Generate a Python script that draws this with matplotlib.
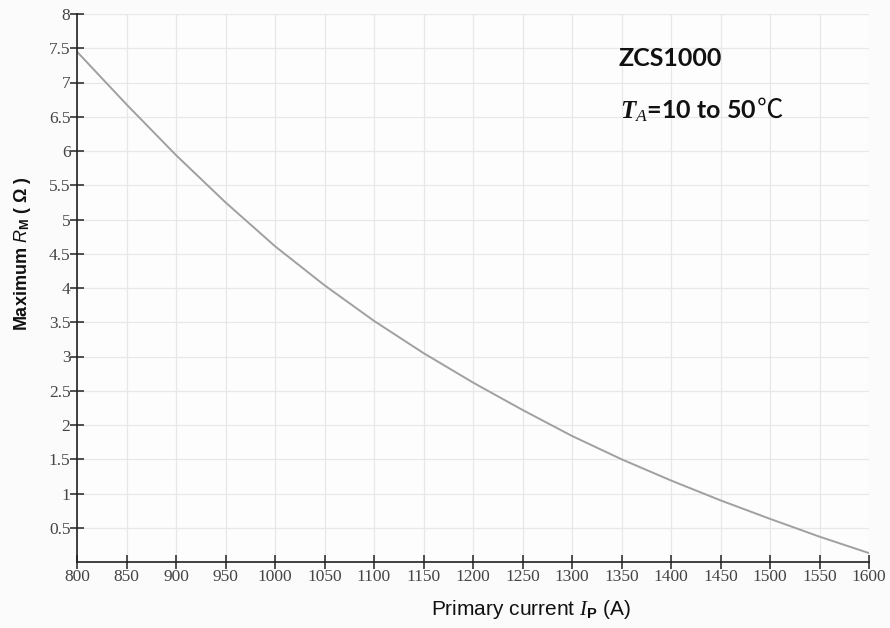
import matplotlib
matplotlib.use("Agg")
import matplotlib.pyplot as plt

# data
current = [800, 850, 900, 950, 1000, 1050, 1100, 1150, 1200,
           1250, 1300, 1350, 1400, 1450, 1500, 1550, 1600]
max_rm = [7.45, 6.68, 5.94, 5.25, 4.61, 4.04, 3.52, 3.05, 2.62,
          2.22, 1.84, 1.50, 1.19, 0.90, 0.63, 0.37, 0.13]

x_ticks = list(range(800, 1601, 50))
y_ticks = [0.5, 1, 1.5, 2, 2.5, 3, 3.5, 4, 4.5, 5, 5.5, 6, 6.5, 7, 7.5, 8]
y_tick_labels = ["0.5", "1", "1.5", "2", "2.5", "3", "3.5", "4", "4.5",
                 "5", "5.5", "6", "6.5", "7", "7.5", "8"]

plt.rcParams['mathtext.fontset'] = 'custom'
plt.rcParams['mathtext.rm'] = 'Liberation Sans'
plt.rcParams['mathtext.it'] = 'Liberation Serif:italic'
plt.rcParams['mathtext.sf'] = 'Liberation Sans:italic'
plt.rcParams['mathtext.bf'] = 'Liberation Sans:bold'
plt.rcParams['mathtext.bfit'] = 'Liberation Serif:italic:bold'

fig = plt.figure(figsize=(8.9, 6.28), dpi=100, facecolor='#fbfbfb')
ax = fig.add_axes([77 / 890, 66 / 628, 792 / 890, 548 / 628])
ax.set_facecolor('#fdfdfd')

ax.plot(current, max_rm, color='#a0a0a0', linewidth=1.4)

ax.set_xlim(800, 1600)
ax.set_ylim(0, 8)
ax.set_xticks(x_ticks)
ax.set_xticklabels([str(v) for v in x_ticks])
ax.set_yticks(y_ticks)
ax.set_yticklabels(y_tick_labels)
ax.grid(True, color='#e8e8e8', linewidth=0.9)
ax.set_axisbelow(True)

for side in ['top', 'right']:
    ax.spines[side].set_visible(False)
for side in ['left', 'bottom']:
    ax.spines[side].set_linewidth(1.2)
    ax.spines[side].set_color('#222222')

ax.tick_params(direction='inout', length=9.5, width=1.1, color='#222222',
               labelsize=12.5, labelcolor='#444444', pad=0)
for lab in ax.get_xticklabels() + ax.get_yticklabels():
    lab.set_fontfamily('Liberation Serif')

ax.set_xlabel(r'Primary current $\mathit{I}_{\mathbf{P}}$ (A)',
              fontfamily='Liberation Sans', fontsize=15, color='#111111')
ax.xaxis.set_label_coords(0.573, -0.066)
ax.set_ylabel(r'Maximum $\mathsf{R}_{\mathbf{M}}$ ( Ω )',
              fontfamily='Liberation Sans', fontsize=13,
              fontweight='bold', color='#111111')
ax.yaxis.set_label_coords(-0.0555, 0.562)

ax.text(0.684, 0.905, 'ZCS1000', transform=ax.transAxes,
        fontfamily=['Lato', 'DejaVu Sans'], fontweight='bold', fontsize=18,
        color='#111111')
temp = ax.text(0.686, 0.81, r'$\mathbfit{T}_{\mathit{A}}$=10 to 50', transform=ax.transAxes,
               fontfamily='Lato', fontweight='bold', fontsize=18,
               color='#111111')
ax.annotate('℃', xy=(1, 0.0), xycoords=temp, va='bottom', ha='left',
            fontfamily='Noto Sans CJK SC', fontsize=19, color='#111111')

fig.savefig('out.png', dpi=100, facecolor=fig.get_facecolor())
